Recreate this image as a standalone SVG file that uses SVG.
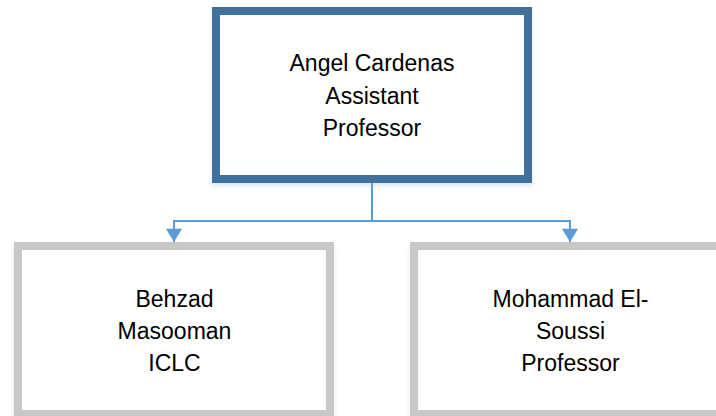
<svg xmlns="http://www.w3.org/2000/svg" width="716" height="416" viewBox="0 0 716 416">
<style>
.top{fill:#fff;stroke:#41719c;stroke-width:8}
.sub{fill:#fff;stroke:#c8c8c8;stroke-width:8}
.lbl{font-family:"Liberation Sans",Arial,sans-serif;font-size:23px;fill:#000;text-anchor:middle}
.conn{fill:none;stroke:#5b9bd5;stroke-width:2}
</style>
<defs>
<marker id="arr" markerUnits="userSpaceOnUse" markerWidth="18" markerHeight="16" refX="14" refY="8.5" orient="auto" viewBox="0 0 14 17">
<path d="M0,0 L14,8.5 L0,17 Z" fill="#5b9bd5"/>
</marker>
<filter id="sh" x="-5%" y="-5%" width="110%" height="115%">
<feDropShadow dx="0" dy="3" stdDeviation="2" flood-color="#9db8d8" flood-opacity="0.35"/>
</filter>
</defs>
<g id="connectors">
<path class="conn" d="M372,183 V221 H174 V242" marker-end="url(#arr)"/>
<path class="conn" d="M372,183 V221 H570 V242" marker-end="url(#arr)"/>
</g>
<g id="node-angel">
<rect class="top" x="216" y="11" width="312" height="168" filter="url(#sh)"/>
<text class="lbl" x="372" y="71">Angel Cardenas</text>
<text class="lbl" x="372" y="103.5">Assistant</text>
<text class="lbl" x="372" y="136">Professor</text>
</g>
<g id="node-behzad">
<rect class="sub" x="18" y="246" width="312" height="168" filter="url(#sh)"/>
<text class="lbl" x="174.5" y="306.5">Behzad</text>
<text class="lbl" x="174.5" y="339">Masooman</text>
<text class="lbl" x="174.5" y="371">ICLC</text>
</g>
<g id="node-mohammad">
<rect class="sub" x="414" y="246" width="312" height="168" filter="url(#sh)"/>
<text class="lbl" x="570.5" y="306.5">Mohammad El-</text>
<text class="lbl" x="570.5" y="339">Soussi</text>
<text class="lbl" x="570.5" y="371">Professor</text>
</g>
</svg>
